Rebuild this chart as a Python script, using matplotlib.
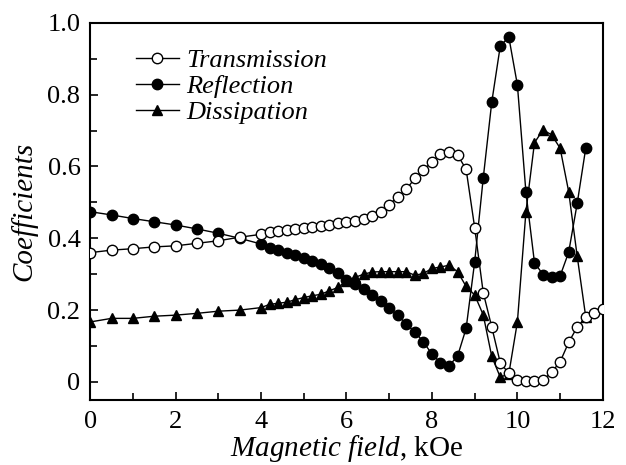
import matplotlib
matplotlib.use("Agg")
import matplotlib.pyplot as plt
from matplotlib.ticker import MultipleLocator, FixedLocator, FixedFormatter

plt.rcParams['font.family'] = ['Liberation Serif', 'DejaVu Serif']
plt.rcParams['mathtext.fontset'] = 'custom'
plt.rcParams['mathtext.rm'] = 'Liberation Serif'
plt.rcParams['mathtext.it'] = 'Liberation Serif:italic'

# Magnetic field, kOe
field_t = [0.0, 0.5, 1.0, 1.5, 2.0, 2.5, 3.0, 3.5,
           4.0, 4.2, 4.4, 4.6, 4.8, 5.0, 5.2, 5.4, 5.6, 5.8,
           6.0, 6.2, 6.4, 6.6, 6.8, 7.0, 7.2, 7.4, 7.6, 7.8,
           8.0, 8.2, 8.4, 8.6, 8.8, 9.0, 9.2, 9.4, 9.6, 9.8,
           10.0, 10.2, 10.4, 10.6, 10.8, 11.0, 11.2, 11.4, 11.6, 11.8, 12.0]
field_rd = field_t[:-2]

transmission = [0.360, 0.367, 0.371, 0.376, 0.379, 0.386, 0.393, 0.403,
                0.411, 0.417, 0.420, 0.423, 0.427, 0.429, 0.432, 0.435, 0.438, 0.442,
                0.445, 0.449, 0.453, 0.462, 0.474, 0.494, 0.515, 0.536, 0.567, 0.590,
                0.613, 0.635, 0.640, 0.632, 0.592, 0.430, 0.249, 0.153, 0.053, 0.024,
                0.006, 0.003, 0.003, 0.005, 0.027, 0.056, 0.110, 0.153, 0.180, 0.192, 0.204]

reflection = [0.474, 0.465, 0.455, 0.446, 0.437, 0.426, 0.414, 0.400,
              0.384, 0.374, 0.367, 0.360, 0.353, 0.344, 0.336, 0.327, 0.318, 0.304,
              0.285, 0.274, 0.258, 0.242, 0.226, 0.205, 0.186, 0.161, 0.139, 0.112,
              0.077, 0.054, 0.045, 0.072, 0.149, 0.334, 0.567, 0.779, 0.936, 0.960,
              0.827, 0.528, 0.332, 0.299, 0.291, 0.295, 0.361, 0.497, 0.651]

dissipation = [0.167, 0.177, 0.177, 0.183, 0.186, 0.191, 0.197, 0.200,
               0.207, 0.216, 0.219, 0.222, 0.229, 0.235, 0.240, 0.244, 0.254, 0.263,
               0.282, 0.291, 0.300, 0.306, 0.307, 0.307, 0.307, 0.307, 0.297, 0.302,
               0.316, 0.320, 0.325, 0.307, 0.266, 0.242, 0.187, 0.071, 0.013, 0.023,
               0.167, 0.474, 0.666, 0.702, 0.688, 0.651, 0.530, 0.350, 0.181]

y_ticks = [0, 0.2, 0.4, 0.6, 0.8, 1.0]
y_labels = ['0', '0.2', '0.4', '0.6', '0.8', '1.0']

fig = plt.figure(figsize=(6.26, 4.65), dpi=100)
ax = fig.add_subplot(111)
fig.subplots_adjust(left=0.144, right=0.963, top=0.951, bottom=0.140)

ax.plot(field_t, transmission, color='black', lw=1.0, marker='o', ms=7.5,
        mfc='white', mec='black', mew=1.0, label='Transmission', zorder=4)
ax.plot(field_rd, reflection, color='black', lw=1.0, marker='o', ms=7.5,
        mfc='black', mec='black', label='Reflection', zorder=3)
ax.plot(field_rd, dissipation, color='black', lw=1.0, marker='^', ms=7.5,
        mfc='black', mec='black', label='Dissipation', zorder=3)

ax.set_xlim(0, 12)
ax.set_ylim(-0.05, 1.0)
ax.xaxis.set_major_locator(MultipleLocator(2))
ax.xaxis.set_minor_locator(MultipleLocator(1))
ax.yaxis.set_major_locator(FixedLocator(y_ticks))
ax.yaxis.set_major_formatter(FixedFormatter(y_labels))
ax.yaxis.set_minor_locator(MultipleLocator(0.1))
ax.tick_params(which='both', direction='in', labelsize=19, width=1.2)
ax.tick_params(which='major', length=6, pad=7)
ax.tick_params(axis='x', which='major', pad=8)
ax.tick_params(which='minor', length=5)
for s in ax.spines.values():
    s.set_linewidth(1.5)

ax.set_xlabel(r'$\mathit{Magnetic\ field}$, kOe', fontsize=21, labelpad=0)
ax.set_ylabel('Coefficients', fontsize=21, style='italic', labelpad=7)

leg = ax.legend(loc='upper left', bbox_to_anchor=(0.054, 0.98), frameon=False,
                prop={'family': 'Liberation Serif', 'style': 'italic', 'size': 19},
                handlelength=1.6, handletextpad=0.3, labelspacing=0.1,
                borderpad=0.2)

fig.savefig('out.png', dpi=100)
